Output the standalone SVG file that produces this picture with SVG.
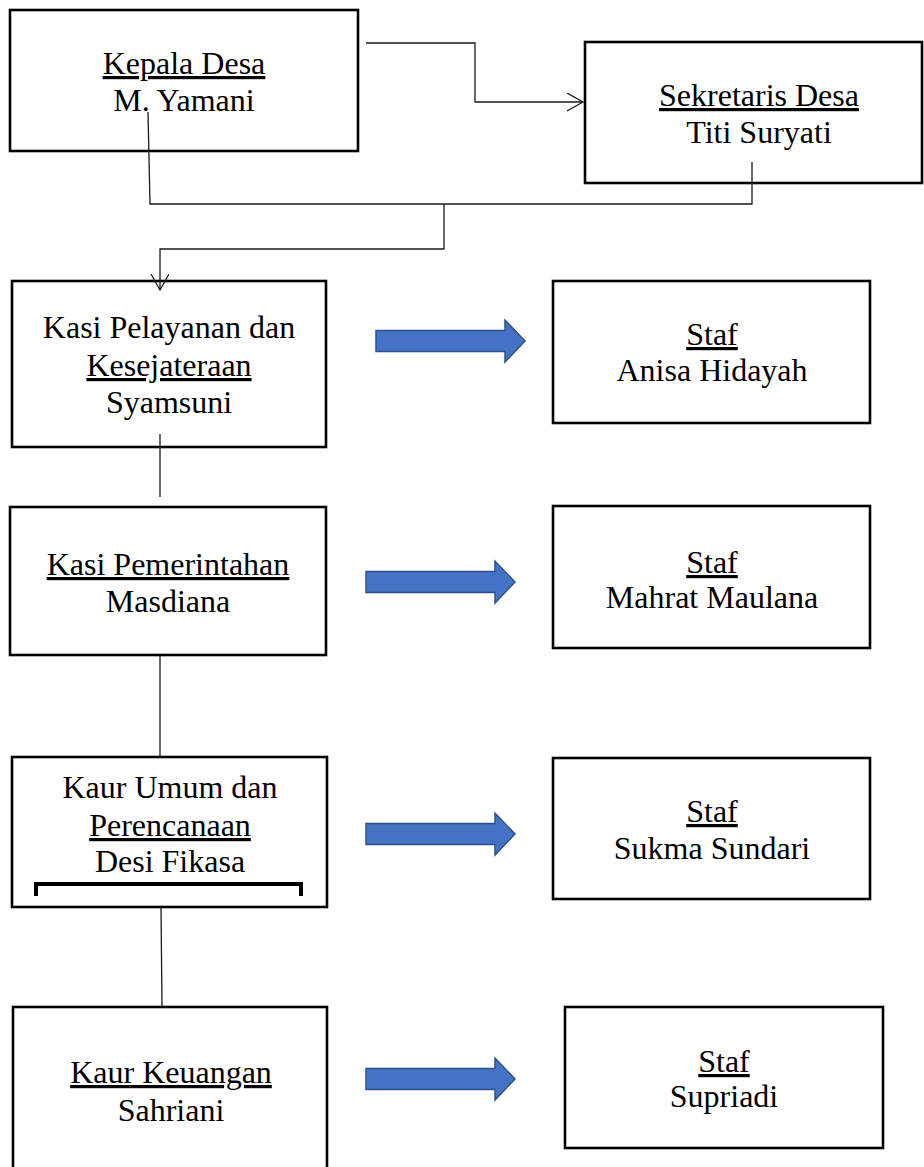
<svg xmlns="http://www.w3.org/2000/svg" width="924" height="1167" viewBox="0 0 924 1167">
  <style>
    .box { fill: #ffffff; stroke: #000000; stroke-width: 2.6; }
    .t { font-family: "Liberation Serif", "Times New Roman", serif; font-size: 32px; fill: #000000; text-anchor: middle; }
    .u { text-decoration: underline; }
    .conn { fill: none; stroke: #1a1a1a; stroke-width: 1.3; }
    .blue { fill: #4472C4; stroke: #2F528F; stroke-width: 1.5; }
    .bracket { fill: none; stroke: #000000; stroke-width: 4; }
  </style>
  <defs>
    <marker id="open" markerUnits="userSpaceOnUse" markerWidth="20" markerHeight="22" refX="16" refY="9" orient="auto">
      <path d="M0,0 L16,9 L0,18" fill="none" stroke="#1a1a1a" stroke-width="1.3"/>
    </marker>
    <path id="blockArrow" d="M0,-10.5 H129 V-21 L149,0 L129,21 V10.5 H0 Z"/>
  </defs>
  <rect width="924" height="1167" fill="#ffffff"/>

  <g id="kepala-desa">
    <rect class="box" x="10" y="10" width="348" height="141"/>
    <text class="t u" x="184" y="74">Kepala Desa</text>
    <text class="t" x="184" y="111">M. Yamani</text>
  </g>

  <g id="sekretaris-desa">
    <rect class="box" x="585" y="42" width="337" height="141"/>
    <text class="t u" x="759" y="106">Sekretaris Desa</text>
    <text class="t" x="759" y="143">Titi Suryati</text>
  </g>

  <g id="kasi-pelayanan">
    <rect class="box" x="12" y="281" width="314" height="166"/>
    <text class="t" x="169" y="338">Kasi Pelayanan dan</text>
    <text class="t u" x="169" y="376">Kesejateraan</text>
    <text class="t" x="169" y="413">Syamsuni</text>
  </g>

  <g id="staf-anisa">
    <rect class="box" x="553" y="281" width="317" height="142"/>
    <text class="t u" x="712" y="345">Staf</text>
    <text class="t" x="712" y="381">Anisa Hidayah</text>
  </g>

  <g id="kasi-pemerintahan">
    <rect class="box" x="10" y="507" width="316" height="148"/>
    <text class="t u" x="168" y="575">Kasi Pemerintahan</text>
    <text class="t" x="168" y="612">Masdiana</text>
  </g>

  <g id="staf-mahrat">
    <rect class="box" x="553" y="506" width="317" height="142"/>
    <text class="t u" x="712" y="573">Staf</text>
    <text class="t" x="712" y="608">Mahrat Maulana</text>
  </g>

  <g id="kaur-umum">
    <rect class="box" x="12" y="757" width="315" height="150"/>
    <text class="t" x="170" y="798">Kaur Umum dan</text>
    <text class="t u" x="170" y="836">Perencanaan</text>
    <text class="t" x="170" y="872">Desi Fikasa</text>
    <path class="bracket" d="M36,896 V884 H301 V896"/>
  </g>

  <g id="staf-sukma">
    <rect class="box" x="553" y="758" width="317" height="141"/>
    <text class="t u" x="712" y="822">Staf</text>
    <text class="t" x="712" y="859">Sukma Sundari</text>
  </g>

  <g id="kaur-keuangan">
    <rect class="box" x="13" y="1007" width="314" height="168"/>
    <text class="t u" x="171" y="1083">Kaur Keuangan</text>
    <text class="t" x="171" y="1121">Sahriani</text>
  </g>

  <g id="staf-supriadi">
    <rect class="box" x="565" y="1007" width="318" height="141"/>
    <text class="t u" x="724" y="1072">Staf</text>
    <text class="t" x="724" y="1107">Supriadi</text>
  </g>

  <g id="connectors">
    <path class="conn" d="M366,43 H475 V102 H583" marker-end="url(#open)"/>
    <path class="conn" d="M148,112 L150,204 H444"/>
    <path class="conn" d="M752,162 V204 H444"/>
    <path class="conn" d="M444,204 V249 H160 V290" marker-end="url(#open)"/>
    <path class="conn" d="M160,434 V497"/>
    <path class="conn" d="M160,655 V757"/>
    <path class="conn" d="M161,907 L162,1007"/>
    <use href="#blockArrow" class="blue" transform="translate(376,341)"/>
    <use href="#blockArrow" class="blue" transform="translate(366,582)"/>
    <use href="#blockArrow" class="blue" transform="translate(366,834)"/>
    <use href="#blockArrow" class="blue" transform="translate(366,1079)"/>
  </g>
</svg>
